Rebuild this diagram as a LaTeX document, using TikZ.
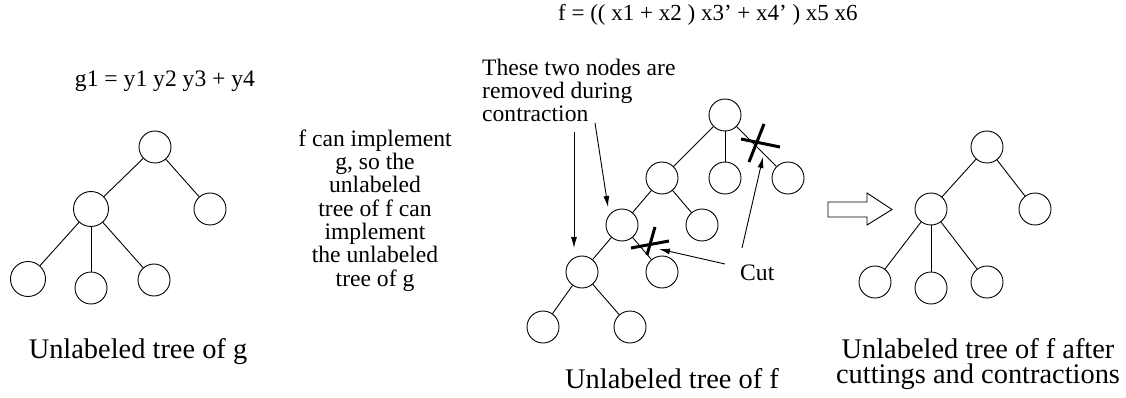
\documentclass[tikz,border=0pt]{standalone}
\usepackage{fontspec}
\setmainfont{Liberation Serif}
\usetikzlibrary{arrows.meta}
\tikzset{
  vtx/.style={circle, draw, minimum size=32pt, inner sep=0pt, line width=0.9pt},
  vtxb/.style={vtx, minimum size=35pt},
  edge/.style={line width=0.9pt},
  cutmark/.style={line width=3pt},
  ptr/.style={-{Latex[length=11pt,width=6pt]}, line width=0.9pt},
  small/.style={font=\fontsize{23.6}{23.3}\selectfont, inner sep=0pt},
  formula/.style={font=\fontsize{23}{23}\selectfont, inner sep=0pt},
  big/.style={font=\fontsize{28.4}{25}\selectfont, inner sep=0pt},
  blockarrow/.style={draw, line width=0.9pt, fill=white}
}
\begin{document}
\begin{tikzpicture}[x=1pt,y=-1pt]
\useasboundingbox (0,0) rectangle (1126,398);

% ---------- tree of g ----------
\node[small, anchor=base] (gform) at (165,87) {g1 = y1 y2 y3 + y4};
\node[vtx]  (g0) at (155,147) {};
\node[vtxb] (g1) at (91,209) {};
\node[vtx]  (g2) at (210,209) {};
\node[vtxb] (g3) at (28,279) {};
\node[vtx]  (g4) at (91,288) {};
\node[vtx]  (g5) at (154,280) {};
\draw[edge] (g0) -- (g1);
\draw[edge] (g0) -- (g2);
\draw[edge] (g1) -- (g3);
\draw[edge] (g1) -- (g4);
\draw[edge] (g1) -- (g5);
\node[big, anchor=base] (gcap) at (138,358) {Unlabeled tree of g};

% ---------- middle text ----------
\node[small, anchor=base, align=center] (mid) at (375,286)
  {f can implement\\g, so the\\unlabeled\\tree of f can\\implement\\the unlabeled\\tree of g};

% ---------- tree of f ----------
\node[formula, anchor=base west] (fform) at (558,21) {f = (( x1 + x2 ) x3’ + x4’ ) x5 x6};
\node[small, anchor=base west, align=left] (note) at (482,122)
  {These two nodes are\\removed during\\contraction};
\node[vtx] (f0) at (725,115) {};
\node[vtx] (fA) at (662,178) {};
\node[vtx] (fB) at (725,178) {};
\node[vtx] (fC) at (788,178) {};
\node[vtx] (fD) at (622,225) {};
\node[vtx] (fE) at (702,225) {};
\node[vtx] (fF) at (582,272) {};
\node[vtx] (fG) at (662,272) {};
\node[vtx] (fH) at (543,327) {};
\node[vtx] (fI) at (630,327) {};
\draw[edge] (f0) -- (fA);
\draw[edge] (f0) -- (fB);
\draw[edge] (f0) -- (fC);
\draw[edge] (fA) -- (fD);
\draw[edge] (fA) -- (fE);
\draw[edge] (fD) -- (fF);
\draw[edge] (fD) -- (fG);
\draw[edge] (fF) -- (fH);
\draw[edge] (fF) -- (fI);
% cut marks
\draw[cutmark] (741,139) -- (780,147);
\draw[cutmark] (764,124) -- (749,162);
\draw[cutmark] (631,248) -- (669,241);
\draw[cutmark] (655,227) -- (647,255);
\coordinate (x1c) at (763,157);
\coordinate (x2c) at (659,249);
\node[small, anchor=base west] (cut) at (740,280) {Cut};
\draw[ptr] (725,264) -- (x2c);
\draw[ptr] (742,248) -- (x1c);
% arrows from note
\coordinate (n1) at (574,132);
\coordinate (n2) at (595,123);
\coordinate (t1) at (574,248);
\coordinate (t2) at (608,207);
\draw[ptr] (n1) -- (t1);
\draw[ptr] (n2) -- (t2);
\node[big, anchor=base] (fcap) at (672,388) {Unlabeled tree of f};

% ---------- block arrow ----------
\draw[blockarrow] (828,202) -- (867,202) -- (867,193) -- (892,209.5)
  -- (867,225) -- (867,217) -- (828,217) -- cycle;

% ---------- tree after ----------
\node[vtx] (r0) at (987,147) {};
\node[vtx] (r1) at (931,209) {};
\node[vtx] (r2) at (1035,209) {};
\node[vtx] (r3) at (875,282) {};
\node[vtx] (r4) at (931,288) {};
\node[vtx] (r5) at (987,282) {};
\draw[edge] (r0) -- (r1);
\draw[edge] (r0) -- (r2);
\draw[edge] (r1) -- (r3);
\draw[edge] (r1) -- (r4);
\draw[edge] (r1) -- (r5);
\node[big, anchor=base, align=center] (rcap) at (978,383)
  {Unlabeled tree of f after\\cuttings and contractions};
\end{tikzpicture}
\end{document}
